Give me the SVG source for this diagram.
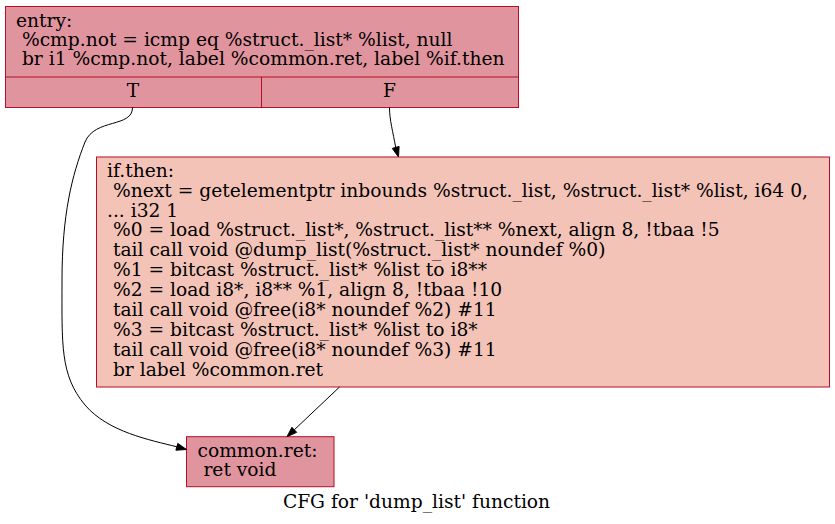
<svg xmlns="http://www.w3.org/2000/svg" width="835" height="524" viewBox="0 0 835 524">
<style>
text{font-family:"DejaVu Serif","Liberation Serif",serif;font-size:18.67px;fill:#000;white-space:pre}
.n1{fill:#e0949e;stroke:#b70d28;stroke-width:1}
.n2{fill:#f4c3b7;stroke:#b70d28;stroke-width:1}
.div{stroke:#b70d28;stroke-width:1;fill:none}
.e{fill:none;stroke:#000;stroke-width:1}
.ah{fill:#000;stroke:#000;stroke-width:1}
</style>
<rect width="835" height="524" fill="#fff"/>
<g id="entry">
<rect class="n1" x="5.5" y="6.5" width="513" height="101"/>
<line class="div" x1="5.5" y1="77" x2="518.5" y2="77"/>
<line class="div" x1="261.5" y1="77" x2="261.5" y2="107.5"/>
<text x="16" y="26.5">entry:</text>
<text x="16" y="45.5"> %cmp.not = icmp eq %struct._list* %list, null</text>
<text x="16" y="65"> br i1 %cmp.not, label %common.ret, label %if.then</text>
<text x="133" y="97" text-anchor="middle">T</text>
<text x="389.5" y="97" text-anchor="middle">F</text>
</g>
<g id="if.then">
<rect class="n2" x="96.5" y="157" width="733" height="230"/>
<text x="107" y="176.7">if.then:</text>
<text x="107" y="196.6"> %next = getelementptr inbounds %struct._list, %struct._list* %list, i64 0,</text>
<text x="107" y="216.5">... i32 1</text>
<text x="107" y="236.4"> %0 = load %struct._list*, %struct._list** %next, align 8, !tbaa !5</text>
<text x="107" y="256.3"> tail call void @dump_list(%struct._list* noundef %0)</text>
<text x="107" y="276.2"> %1 = bitcast %struct._list* %list to i8**</text>
<text x="107" y="296.1"> %2 = load i8*, i8** %1, align 8, !tbaa !10</text>
<text x="107" y="316"> tail call void @free(i8* noundef %2) #11</text>
<text x="107" y="335.9"> %3 = bitcast %struct._list* %list to i8*</text>
<text x="107" y="355.8"> tail call void @free(i8* noundef %3) #11</text>
<text x="107" y="375.7"> br label %common.ret</text>
</g>
<g id="common.ret">
<rect class="n1" x="186.5" y="436.7" width="147.5" height="50"/>
<text x="197.5" y="456.7">common.ret:</text>
<text x="197.5" y="476"> ret void</text>
</g>
<g id="connectors">
<path class="e" d="M132.5,107.5 C132.5,128 95,118 85,142 C72,175 62,215 62,280 C62,345 60,375 85,405 C108,432 150,440 176.9,446.8"/>
<polygon class="ah" points="186.5,449.5 177.8,443.4 175.9,450.2"/>
<path class="e" d="M389.5,107.5 C389.5,120 393,132 395.7,147.4"/>
<polygon class="ah" points="398.5,157 392.3,148.4 399.1,146.4"/>
<path class="e" d="M339.5,387 L294.3,429.8"/>
<polygon class="ah" points="287,436.7 296.7,432.3 291.9,427.3"/>
</g>
<text x="416.5" y="507.5" text-anchor="middle">CFG for 'dump_list' function</text>
</svg>
